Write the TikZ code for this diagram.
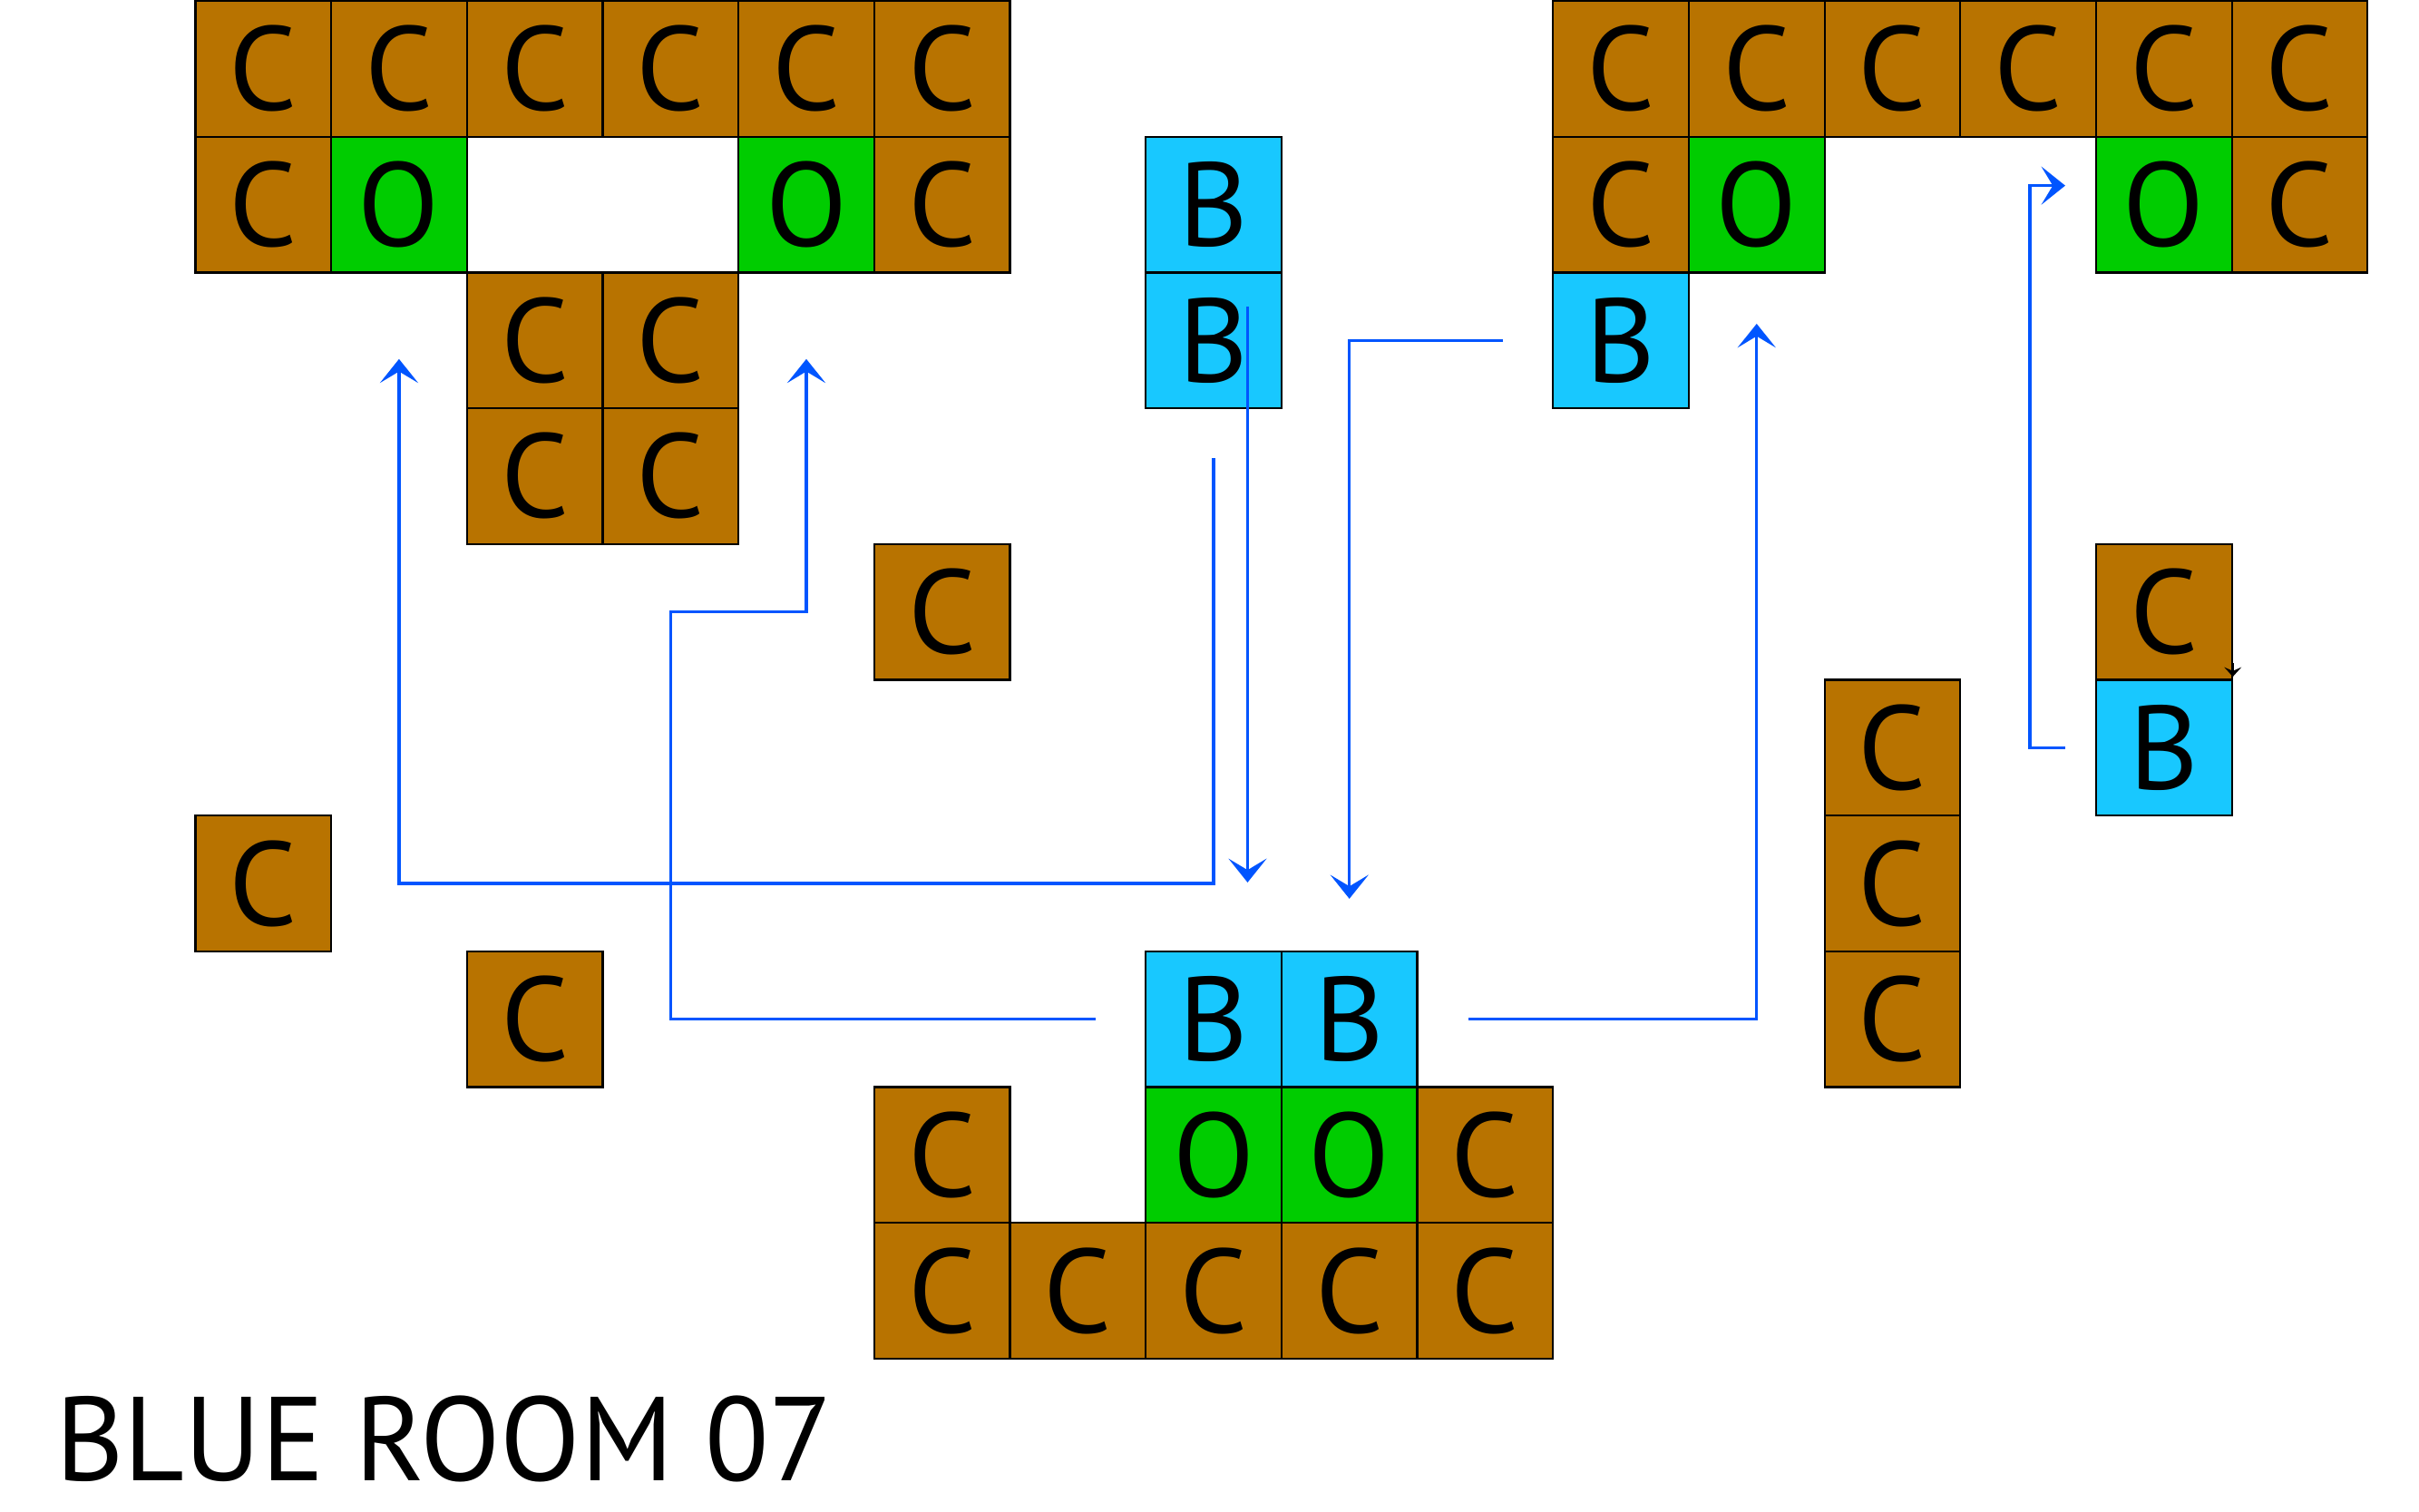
\documentclass[tikz,border=0pt]{standalone}
\usepackage{fontspec}
\setmainfont{PT Sans}
\usetikzlibrary{arrows.meta}
\definecolor{wallbrown}{RGB}{184,115,0}
\definecolor{goalgreen}{RGB}{0,204,0}
\definecolor{crateblue}{RGB}{24,200,255}
\definecolor{moveblue}{RGB}{0,85,255}
\begin{document}
\begin{tikzpicture}[cell/.style={draw,line width=0.42pt,minimum size=1cm,inner sep=0pt,anchor=north west,font=\fontsize{25}{30}\selectfont},
wall/.style={cell,fill=wallbrown},goal/.style={cell,fill=goalgreen},crate/.style={cell,fill=crateblue},
move/.style={draw=moveblue,line width=0.6pt,-{Stealth[length=5pt,width=8pt,inset=2.4pt]}}]
\fill[white] (-1.432,0) rectangle (16.386,-11.137);
\useasboundingbox (-1.432,0) rectangle (16.386,-11.137);
\begin{scope}
\node[wall] (l1) at (0,0) {C};
\node[wall] (l2) at (1,0) {C};
\node[wall] (l3) at (2,0) {C};
\node[wall] (l4) at (3,0) {C};
\node[wall] (l5) at (4,0) {C};
\node[wall] (l6) at (5,0) {C};
\node[wall] (l7) at (0,-1) {C};
\node[goal] (l8) at (1,-1) {O};
\node[goal] (l9) at (4,-1) {O};
\node[wall] (l10) at (5,-1) {C};
\node[wall] (l11) at (2,-2) {C};
\node[wall] (l12) at (3,-2) {C};
\node[wall] (l13) at (2,-3) {C};
\node[wall] (l14) at (3,-3) {C};
\end{scope}
\node[crate] (m1) at (7,-1) {B};
\node[crate] (m2) at (7,-2) {B};
\begin{scope}[xshift=10cm]
\node[wall] (r1) at (0,0) {C};
\node[wall] (r2) at (1,0) {C};
\node[wall] (r3) at (2,0) {C};
\node[wall] (r4) at (3,0) {C};
\node[wall] (r5) at (4,0) {C};
\node[wall] (r6) at (5,0) {C};
\node[wall] (r7) at (0,-1) {C};
\node[goal] (r8) at (1,-1) {O};
\node[goal] (r9) at (4,-1) {O};
\node[wall] (r10) at (5,-1) {C};
\node[crate] (r11) at (0,-2) {B};
\end{scope}
\node[wall] (w1) at (5,-4) {C};
\node[wall] (w2) at (0,-6) {C};
\node[wall] (w3) at (2,-7) {C};
\node[wall] (w4) at (12,-5) {C};
\node[wall] (w5) at (12,-6) {C};
\node[wall] (w6) at (12,-7) {C};
\node[wall] (w7) at (14,-4) {C};
\node[crate] (w8) at (14,-5) {B};
\begin{scope}
\node[crate] (b1) at (7,-7) {B};
\node[crate] (b2) at (8,-7) {B};
\node[wall] (b3) at (5,-8) {C};
\node[goal] (b4) at (7,-8) {O};
\node[goal] (b5) at (8,-8) {O};
\node[wall] (b6) at (9,-8) {C};
\node[wall] (b7) at (5,-9) {C};
\node[wall] (b8) at (6,-9) {C};
\node[wall] (b9) at (7,-9) {C};
\node[wall] (b10) at (8,-9) {C};
\node[wall] (b11) at (9,-9) {C};
\end{scope}
\path[move,shorten <=3.6mm,shorten >=6.3mm] (m2.south) |- (l8.south |- w2.east) -- (l8.south);
\path[move,shorten <=3.6mm,shorten >=6.3mm] (b1.west) -- (b1.west -| l14) |- (w1.west -| l9) -- (l9.south);
\path[move,shorten >=5mm] ([shift={(2.5mm,2.5mm)}]m2.center) -- ([xshift=2.5mm]b1.north);
\path[move,shorten <=3.6mm,shorten >=3.8mm] (r11.west) -| (b2.north);
\path[move,shorten <=3.7mm,shorten >=3.7mm] (b2.east) -| (r8.south);
\path[move,shorten <=2.2mm,shorten >=2.2mm] (w8.west) -- ++(-0.48,0) |- ([yshift=1.4mm]r9.west);
\path[draw,-{Stealth[length=2pt,width=3.6pt,inset=0.8pt]}] ([yshift=1.3mm]w7.south east) -- ([yshift=0.3mm]w7.south east);
\node[anchor=base west,inner sep=0pt,font=\fontsize{25}{30}\selectfont] (title) at (-1.03,-10.905) {\scalebox{0.984}[1]{BLUE ROOM 07}};
\end{tikzpicture}
\end{document}
